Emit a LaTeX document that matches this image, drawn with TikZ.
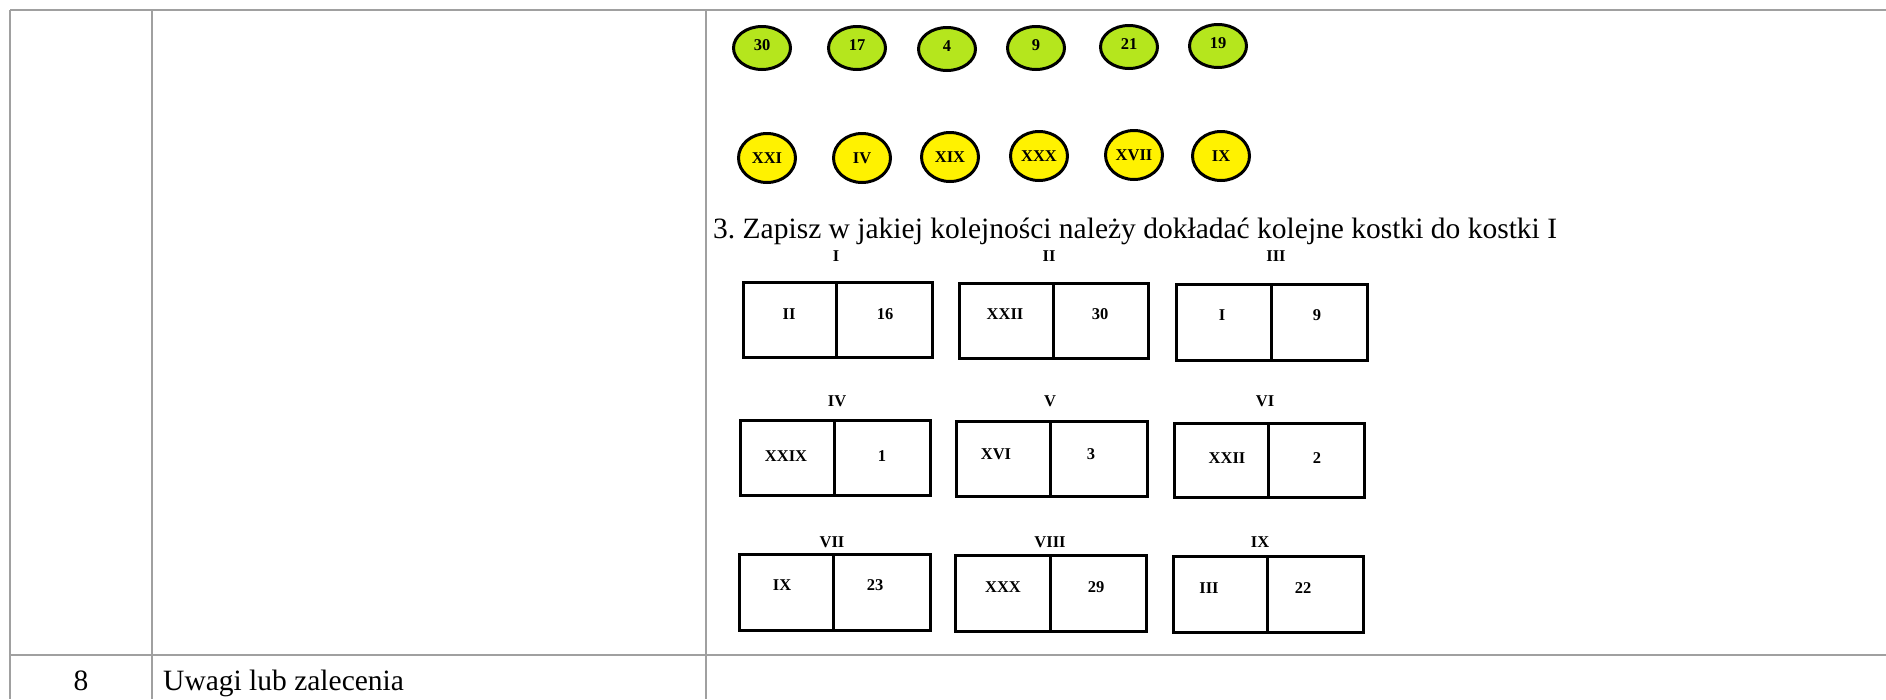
\documentclass[tikz,border=0pt]{standalone}
\usepackage{fontspec}
\setmainfont{Liberation Serif}
\usetikzlibrary{shapes.geometric}
\frenchspacing
\definecolor{gridgray}{HTML}{A0A0A0}
\definecolor{limeball}{HTML}{B5E61D}
\definecolor{yellowball}{HTML}{FFF200}
\tikzset{
  grid/.style={draw=gridgray, line width=2pt},
  ball/.style={ellipse, draw=black, line width=3pt, inner sep=0pt,
    font=\fontsize{16.5}{16.5}\selectfont\bfseries, text depth=0pt},
  numball/.style={ball, fill=limeball, minimum width=57pt, minimum height=43pt},
  romball/.style={ball, fill=yellowball, minimum width=57pt, minimum height=49pt},
  tile/.style={draw=black, line width=3pt},
  tiletext/.style={font=\fontsize{16.5}{16.5}\selectfont\bfseries, inner sep=0pt},
  bodytext/.style={font=\fontsize{29.5}{29.5}\selectfont, inner sep=0pt}
}
% one domino tile: #1 left, #2 divider, #3 right, #4 top, #5 bottom (outer edges)
\newcommand\tilebox[5]{%
  \draw[tile] (#1+1.5,#4+1.5) rectangle (#3-1.5,#5-1.5);
  \draw[tile] (#2,#4+1.5) -- (#2,#5-1.5);
}
\begin{document}
\begin{tikzpicture}[x=1pt,y=-1pt]
\useasboundingbox (0,0) rectangle (1886,699);
\fill[white] (0,0) rectangle (1886,699);

% table rules
\draw[grid] (10,10) -- (1886,10);
\draw[grid] (10,655) -- (1886,655);
\draw[grid] (10,10) -- (10,699);
\draw[grid] (152,10) -- (152,699);
\draw[grid] (706,10) -- (706,699);

% numbered balls
\node[numball] (n30) at (762,48) {\raisebox{6pt}{30}};
\node[numball] (n17) at (857,48) {\raisebox{6pt}{17}};
\node[numball] (n4)  at (947,49) {\raisebox{6pt}{4}};
\node[numball] (n9)  at (1036,48) {\raisebox{6pt}{9}};
\node[numball] (n21) at (1129,47) {\raisebox{6pt}{21}};
\node[numball] (n19) at (1218,46) {\raisebox{6pt}{19}};

% roman balls
\node[romball] (rXXI)  at (767,158) {XXI};
\node[romball] (rIV)   at (862,158) {IV};
\node[romball] (rXIX)  at (950,157) {XIX};
\node[romball] (rXXX)  at (1039,156) {XXX};
\node[romball] (rXVII) at (1134,155) {XVII};
\node[romball] (rIX)   at (1221,156) {IX};

% task
\node[bodytext, anchor=base west] (task) at (713,238)
  {3. Zapisz w jakiej kolejności należy dokładać kolejne kostki do kostki I};

% row 1
\tilebox{742}{836}{934}{281}{359}
\tilebox{958}{1053}{1150}{282}{360}
\tilebox{1175}{1271}{1369}{283}{362}
\node[tiletext] (hI)   at (836,256) {I};
\node[tiletext] (hII)  at (1049,256) {II};
\node[tiletext] (hIII) at (1276,256) {III};
\node[tiletext] (aL) at (789,314) {II};
\node[tiletext] (aR) at (885,314) {16};
\node[tiletext] (bL) at (1005,314) {XXII};
\node[tiletext] (bR) at (1100,314) {30};
\node[tiletext] (cL) at (1222,315) {I};
\node[tiletext] (cR) at (1317,315) {9};

% row 2
\tilebox{739}{834}{932}{419}{497}
\tilebox{955}{1050}{1149}{420}{498}
\tilebox{1173}{1268}{1366}{422}{499}
\node[tiletext] (hIV) at (837,401) {IV};
\node[tiletext] (hV)  at (1050,401) {V};
\node[tiletext] (hVI) at (1265,401) {VI};
\node[tiletext] (dL) at (786,456) {XXIX};
\node[tiletext] (dR) at (882,456) {1};
\node[tiletext] (eL) at (996,454) {XVI};
\node[tiletext] (eR) at (1091,454) {3};
\node[tiletext] (fL) at (1227,458) {XXII};
\node[tiletext] (fR) at (1317,458) {2};

% row 3
\tilebox{738}{833}{932}{553}{632}
\tilebox{954}{1050}{1148}{554}{633}
\tilebox{1172}{1267}{1365}{555}{634}
\node[tiletext] (hVII)  at (832,542) {VII};
\node[tiletext] (hVIII) at (1050,542) {VIII};
\node[tiletext] (hIX)   at (1260,542) {IX};
\node[tiletext] (gL) at (782,585) {IX};
\node[tiletext] (gR) at (875,585) {23};
\node[tiletext] (hL) at (1003,587) {XXX};
\node[tiletext] (hR) at (1096,587) {29};
\node[tiletext] (iL) at (1209,588) {III};
\node[tiletext] (iR) at (1303,588) {22};

% last table row
\node[bodytext, anchor=base] (rownum) at (81,690) {8};
\node[bodytext, anchor=base west] (rowlabel) at (163,690) {Uwagi lub zalecenia};
\end{tikzpicture}
\end{document}
